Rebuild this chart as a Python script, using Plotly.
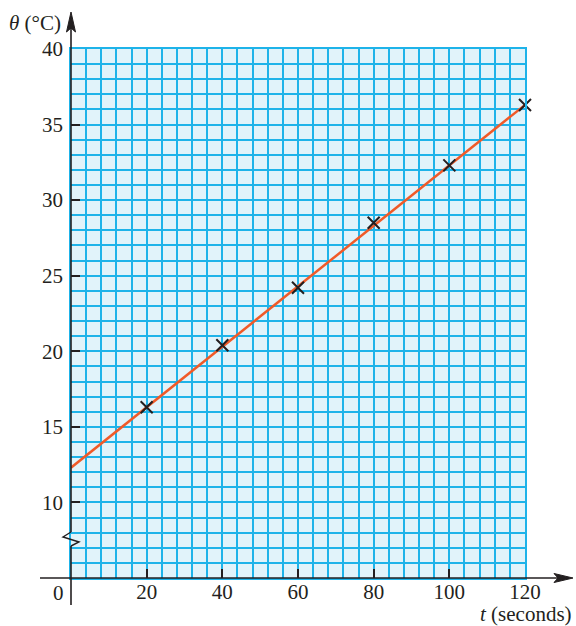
import plotly.graph_objects as go

# Data
t_points = [20, 40, 60, 80, 100, 120]
theta_points = [16.3, 20.4, 24.2, 28.5, 32.3, 36.3]
line_t = [0, 120]
line_theta = [12.3, 36.3]

x_ticks = [20, 40, 60, 80, 100, 120]
y_ticks = [10, 15, 20, 25, 30, 35, 40]

W, H = 576, 626
L, R, T, B = 71, 51, 49, 48
PW, PH = W - L - R, H - T - B

def px(x):
    return (x - L) / PW

def py(y):
    return (H - B - y) / PH

FONT = "Liberation Serif, Times New Roman, serif"
FS = 21
GRID = "#1EB3E9"
BG = "#E1F3FA"
INK = "#231F20"

fig = go.Figure()
fig.add_trace(go.Scatter(x=line_t, y=line_theta, mode="lines",
                         line=dict(color="#F05A28", width=2.5),
                         hoverinfo="skip", showlegend=False))
fig.add_trace(go.Scatter(x=t_points, y=theta_points, mode="markers",
                         marker=dict(symbol="x-thin-open", size=12, color=INK,
                                     line=dict(color=INK, width=2)),
                         cliponaxis=False, showlegend=False))

shapes = []
axis_line = dict(color=INK, width=1.6)
# x axis
shapes.append(dict(type="line", xref="paper", yref="paper",
                   x0=px(40), x1=px(560), y0=0, y1=0, line=axis_line, layer="above"))
# y axis (broken)
shapes.append(dict(type="line", xref="paper", yref="paper",
                   x0=0, x1=0, y0=py(605), y1=py(546), line=axis_line, layer="above"))
shapes.append(dict(type="line", xref="paper", yref="paper",
                   x0=0, x1=0, y0=py(532), y1=py(20), line=axis_line, layer="above"))
# break zigzag
shapes.append(dict(type="path", xref="paper", yref="paper",
                   path=f"M {px(71)} {py(532)} L {px(63)} {py(537)} L {px(79)} {py(542)} L {px(71)} {py(546)}",
                   line=dict(color=INK, width=1.4), layer="above"))
# arrowheads
shapes.append(dict(type="path", xref="paper", yref="paper",
                   path=f"M {px(71)} {py(12)} L {px(66.5)} {py(32)} L {px(71)} {py(28)} L {px(75.5)} {py(32)} Z",
                   fillcolor=INK, line=dict(color=INK, width=1), layer="above"))
shapes.append(dict(type="path", xref="paper", yref="paper",
                   path=f"M {px(573)} {py(578)} L {px(554)} {py(573.5)} L {px(558)} {py(578)} L {px(554)} {py(582.5)} Z",
                   fillcolor=INK, line=dict(color=INK, width=1), layer="above"))

annotations = [
    dict(text="<i>θ</i> (°C)", x=px(63), y=py(23), xref="paper", yref="paper",
         xanchor="right", yanchor="middle", showarrow=False,
         font=dict(family=FONT, size=FS, color=INK)),
    dict(text="<i>t</i> (seconds)", x=px(574), y=py(614), xref="paper", yref="paper",
         xanchor="right", yanchor="middle", showarrow=False,
         font=dict(family=FONT, size=FS, color=INK)),
    dict(text="0", x=px(58), y=py(593), xref="paper", yref="paper",
         xanchor="center", yanchor="middle", showarrow=False,
         font=dict(family=FONT, size=FS, color=INK)),
]

fig.update_layout(
    width=W, height=H,
    margin=dict(l=L, r=R, t=T, b=B, pad=0),
    paper_bgcolor="white", plot_bgcolor=BG,
    shapes=shapes, annotations=annotations,
    font=dict(family=FONT, size=FS, color=INK),
    xaxis=dict(range=[0, 120], tickvals=x_ticks, ticks="inside", ticklen=9,
               tickwidth=1.6, tickcolor=INK, showgrid=True, gridcolor=GRID,
               gridwidth=1.6, zeroline=False, showline=True, linecolor=GRID,
               linewidth=1.6, mirror=True, ticklabelstandoff=-6,
               minor=dict(tick0=0, dtick=4, showgrid=True, gridcolor=GRID,
                          gridwidth=1.6, ticks=""),
               tickfont=dict(family=FONT, size=FS, color=INK), fixedrange=True),
    yaxis=dict(range=[5, 40], tickvals=y_ticks, ticks="inside", ticklen=9,
               tickwidth=1.6, tickcolor=INK, showgrid=True, gridcolor=GRID,
               gridwidth=1.6, zeroline=False, showline=True, linecolor=GRID,
               linewidth=1.6, mirror=True, ticklabelstandoff=2,
               minor=dict(tick0=0, dtick=1, showgrid=True, gridcolor=GRID,
                          gridwidth=1.6, ticks=""),
               tickfont=dict(family=FONT, size=FS, color=INK), fixedrange=True),
)

fig.write_html("out.html", config={"displayModeBar": False},
               post_script="document.body.style.margin='0';document.body.style.overflow='hidden';")
